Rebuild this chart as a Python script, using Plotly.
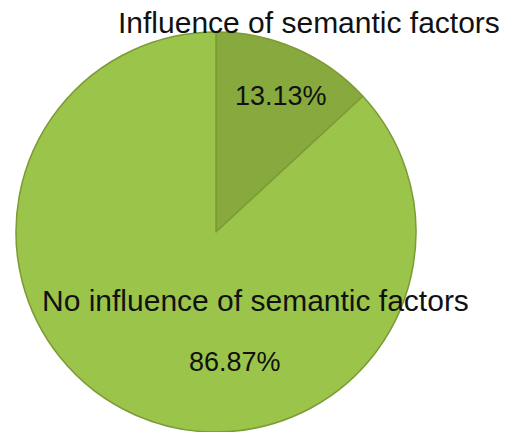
import plotly.graph_objects as go

# Share of cases by whether semantic factors had an influence
categories = ["Influence of semantic factors", "No influence of semantic factors"]
shares = [13.13, 86.87]
slice_colors = ["#88a93d", "#9bc54a"]

W, H = 507, 432
cx, cy, r = 216, 232, 200  # pixel centre and radius of the pie

fig = go.Figure()
fig.add_trace(go.Pie(
    labels=categories,
    values=shares,
    sort=False,
    direction="clockwise",
    rotation=0,
    textinfo="none",
    hoverinfo="label+percent",
    showlegend=False,
    marker=dict(colors=slice_colors, line=dict(color="#7c9a36", width=1.5)),
    domain=dict(x=[(cx - r) / W, (cx + r) / W], y=[(H - cy - r) / H, (H - cy + r) / H]),
))

font = dict(family="Liberation Sans, Arial, sans-serif", color="#111111")

def px(x, y):
    return dict(x=x / W, y=1 - y / H, xref="paper", yref="paper",
                xanchor="center", yanchor="middle", showarrow=False)

annotations = [
    dict(text=categories[0], font=dict(size=30, **font), **px(309, 22)),
    dict(text=f"{shares[0]:.2f}%", font=dict(size=27, **font), **px(281, 96)),
    dict(text=categories[1], font=dict(size=30, **font), **px(255, 300)),
    dict(text=f"{shares[1]:.2f}%", font=dict(size=27, **font), **px(235, 362)),
]

fig.update_layout(
    width=W, height=H,
    margin=dict(l=0, r=0, t=0, b=0),
    paper_bgcolor="white",
    plot_bgcolor="white",
    annotations=annotations,
)

fig.write_html("out.html")
